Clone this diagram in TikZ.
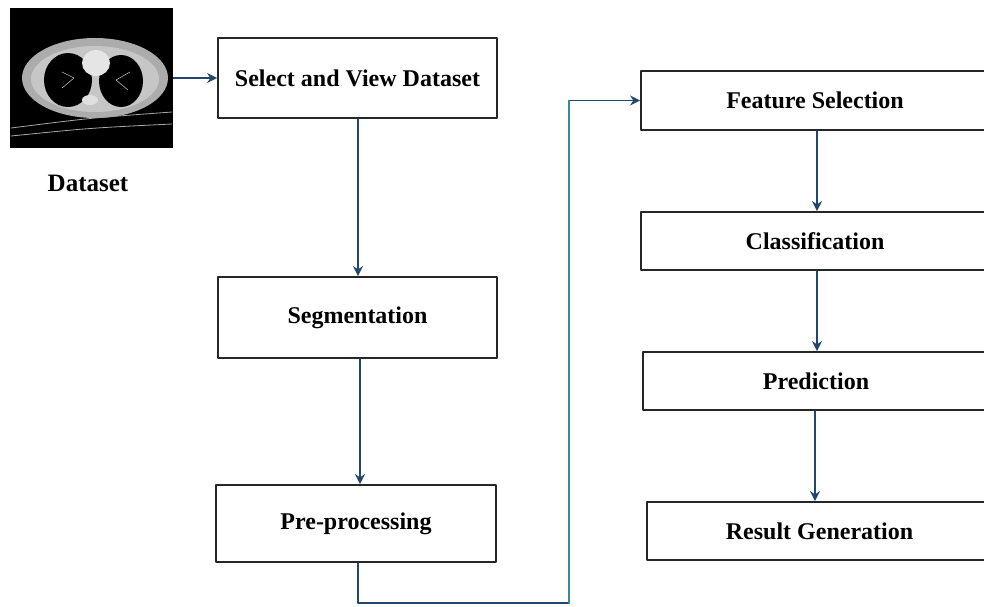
\documentclass[tikz,border=0pt]{standalone}
\usepackage{fontspec}
\setmainfont{Liberation Serif}
\usetikzlibrary{arrows.meta}
\definecolor{linkblue}{RGB}{35,70,110}
\definecolor{linkteal}{RGB}{55,135,160}
\begin{document}
\begin{tikzpicture}[x=0.5pt,y=-0.5pt,line join=round,line cap=round,>={Stealth[length=5pt,width=5pt]}]
			\tikzset{stage/.style={draw=black!85,line width=0.9pt,fill=white,inner sep=0pt,font=\fontsize{12}{14}\selectfont\bfseries},
				link/.style={->,draw=linkblue,line width=0.8pt}}
			\useasboundingbox (0,0) rectangle (984,606);
			% dataset picture
			\node[fill=black,minimum width=81.5pt,minimum height=70pt,inner sep=0pt] (ct) at (91.5,78) {};
			\begin{scope}
				\fill[gray!65] (95,78) ellipse (73 and 40);
				\fill[gray!45] (95,79) ellipse (64 and 33);
				\fill[black] (68,80) ellipse (24 and 27);
				\fill[black] (121,81) ellipse (22 and 26);
				\fill[gray!20] (96,63) ellipse (14 and 13);
				\fill[gray!25] (90,100) ellipse (8 and 5);
				\draw[gray!60,line width=0.3pt] (74,78)--(62,72) (74,78)--(62,88) (116,80)--(130,72) (116,80)--(128,90);
				\draw[gray!70,line width=0.4pt] (11,128) .. controls (90,118) .. (172,112);
				\draw[gray!70,line width=0.4pt] (11,136) .. controls (90,128) .. (172,124);
			\end{scope}
			\node[font=\fontsize{12.5}{15}\selectfont\bfseries] (dslabel) at (88,183) {Dataset};
			% left column
			\node[stage,minimum width=139.5pt,minimum height=40pt] (select) at (357.5,78) {Select and View Dataset};
			\node[stage,minimum width=139.5pt,minimum height=40.5pt] (segment) at (357.5,317.5) {Segmentation};
			\node[stage,minimum width=140pt,minimum height=38.5pt] (preproc) at (356,523.5) {Pre-processing};
			% right column
			\node[stage,minimum width=174pt,minimum height=29.5pt] (feature) at (815,100.5) {Feature Selection};
			\node[stage,minimum width=174pt,minimum height=29pt] (classify) at (815,241) {Classification};
			\node[stage,minimum width=173pt,minimum height=29pt] (predict) at (816,381) {Prediction};
			\node[stage,minimum width=172.5pt,minimum height=29pt] (result) at (819.5,531) {Result Generation};
			% connectors
			\coordinate (turn) at (569,603);
			\draw[link] (ct.east) -- (select.west);
			\draw[link] (select.south -| 358,0) -- (segment.north -| 358,0);
			\draw[link] (segment.south -| 360,0) -- (preproc.north -| 360,0);
			\draw[link] (preproc.south -| 358,0) |- (turn) |- (feature.west);
			\draw[linkteal,line width=0.8pt] (turn) -- (turn |- feature.west);
			\draw[link] (feature.south -| 817,0) -- (classify.north -| 817,0);
			\draw[link] (classify.south -| 817,0) -- (predict.north -| 817,0);
			\draw[link] (predict.south -| 815,0) -- (result.north -| 815,0);
		\end{tikzpicture}
\end{document}
